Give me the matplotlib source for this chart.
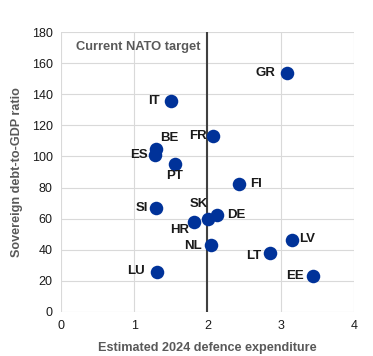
import matplotlib.pyplot as plt

# Country data: estimated 2024 defence expenditure (% GDP) vs debt-to-GDP ratio
countries = ["GR", "IT", "FR", "BE", "ES", "PT", "FI", "SI", "SK", "DE",
             "HR", "NL", "LV", "LT", "LU", "EE"]
defence = [3.09, 1.50, 2.07, 1.30, 1.29, 1.55, 2.43, 1.30, 2.01, 2.13,
           1.81, 2.05, 3.16, 2.86, 1.31, 3.44]
debt = [153.6, 135.4, 113.1, 105.0, 101.1, 95.1, 82.3, 66.8, 59.8, 62.5,
        57.6, 43.0, 46.5, 37.9, 25.7, 22.9]

# label offsets in pixels (dx, dy, ha)
offsets = {
    "GR": (-12, 0, "right"), "IT": (-11, 0, "right"), "FR": (-6, 0, "right"),
    "BE": (4, 11, "left"), "ES": (-8, 0, "right"), "PT": (0, -12, "center"),
    "FI": (11, 0, "left"), "SI": (-8, 0, "right"), "SK": (-9, 15, "center"),
    "DE": (10, 0, "left"), "HR": (-4, -8, "right"), "NL": (-9, -1, "right"),
    "LV": (7, 1, "left"), "LT": (-9, -3, "right"), "LU": (-12, 1, "right"),
    "EE": (-9, 0, "right"),
}

plt.rcParams["font.family"] = ["Liberation Sans", "DejaVu Sans"]

fig = plt.figure(figsize=(3.73, 3.56), dpi=100)
ax = fig.add_axes([0.1635, 0.1236, 0.7855, 0.7864])

ax.scatter(defence, debt, s=95, color="#003299", zorder=3, linewidths=0)

for c, x, y in zip(countries, defence, debt):
    dx, dy, ha = offsets[c]
    ax.annotate(c, (x, y), xytext=(dx, dy), textcoords="offset pixels",
                ha=ha, va="center", fontsize=9.5, fontweight="bold", color="#1a1a1a")

# NATO target line
ax.axvline(2, color="#404040", linewidth=1.5, zorder=2)
ax.text(0.21, 170.3, "Current NATO target", fontsize=9.3, fontweight="bold",
        color="#595959", va="center", ha="left")

ax.set_xlim(0, 4)
ax.set_ylim(0, 180)
ax.set_xticks([0, 1, 2, 3, 4])
ax.set_yticks(range(0, 181, 20))
ax.grid(True, color="#d9d9d9", linewidth=0.8, zorder=0)
ax.set_axisbelow(True)
for s in ax.spines.values():
    s.set_visible(False)
ax.tick_params(length=0, labelsize=9, colors="#1a1a1a", pad=6)

ax.set_xlabel("Estimated 2024 defence expenditure", fontsize=9.1,
              fontweight="bold", color="#595959", labelpad=7)
ax.set_ylabel("Sovereign debt-to-GDP ratio", fontsize=9.1,
              fontweight="bold", color="#595959", labelpad=6)

fig.savefig("out.png", dpi=100)
